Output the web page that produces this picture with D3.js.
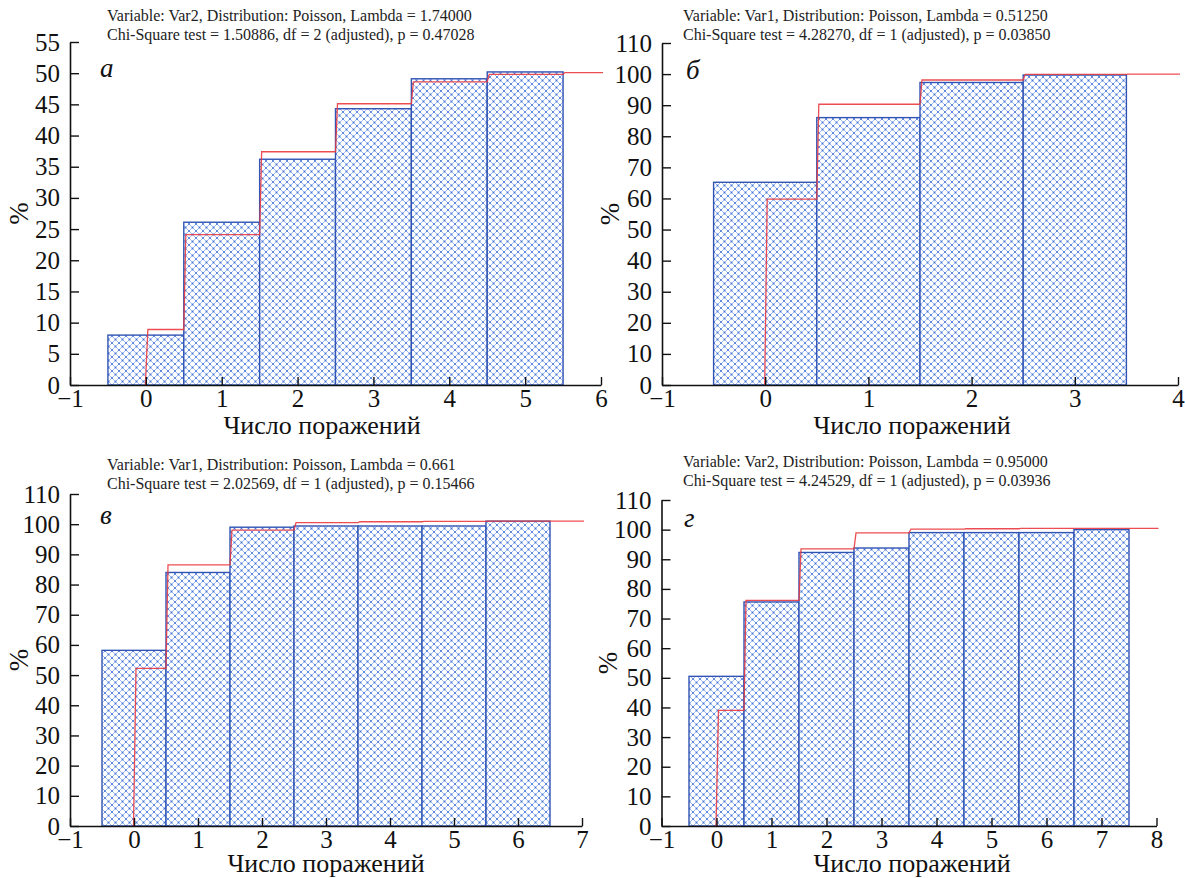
<!DOCTYPE html>
<html><head><meta charset="utf-8">
<script src="https://cdn.jsdelivr.net/npm/d3@7"></script>
<style>
html,body{margin:0;padding:0;background:#fff;}
svg{display:block;font-family:"Liberation Serif","Times New Roman",serif;}
</style></head>
<body>
<svg id="chart" width="1185" height="878"></svg>
<script>
// ---------------- DATA ----------------
const xLabel = "Число поражений";
const yLabel = "%";

const letterA = "а";
const titleA = ["Variable: Var2, Distribution: Poisson, Lambda = 1.74000",
                "Chi-Square test = 1.50886, df = 2 (adjusted), p = 0.47028"];
const categoriesA = [0, 1, 2, 3, 4, 5];
const observedA = [8.0, 26.1, 36.2, 44.3, 49.1, 50.2];
const expectedA = [8.9, 24.1, 37.4, 45.1, 48.6, 49.8];
const expectedTailA = 50.1;
const xTicksA = [-1, 0, 1, 2, 3, 4, 5, 6];
const yTicksA = [0, 5, 10, 15, 20, 25, 30, 35, 40, 45, 50, 55];

const letterB = "б";
const titleB = ["Variable: Var1, Distribution: Poisson, Lambda = 0.51250",
                "Chi-Square test = 4.28270, df = 1 (adjusted), p = 0.03850"];
const categoriesB = [0, 1, 2, 3];
const observedB = [65.2, 86.0, 97.3, 99.7];
const expectedB = [59.8, 90.3, 98.1, 99.9];
const expectedTailB = 100.0;
const xTicksB = [-1, 0, 1, 2, 3, 4];
const yTicksB = [0, 10, 20, 30, 40, 50, 60, 70, 80, 90, 100, 110];

const letterC = "в";
const titleC = ["Variable: Var1, Distribution: Poisson, Lambda = 0.661",
                "Chi-Square test = 2.02569, df = 1 (adjusted), p = 0.15466"];
const categoriesC = [0, 1, 2, 3, 4, 5, 6];
const observedC = [58.2, 84.0, 99.0, 99.4, 99.4, 99.4, 101.0];
const expectedC = [52.2, 86.5, 98.0, 100.5, 100.8, 100.9, 101.0];
const expectedTailC = 101.0;
const xTicksC = [-1, 0, 1, 2, 3, 4, 5, 6, 7];
const yTicksC = [0, 10, 20, 30, 40, 50, 60, 70, 80, 90, 100, 110];

const letterD = "г";
const titleD = ["Variable: Var2, Distribution: Poisson, Lambda = 0.95000",
                "Chi-Square test = 4.24529, df = 1 (adjusted), p = 0.03936"];
const categoriesD = [0, 1, 2, 3, 4, 5, 6, 7];
const observedD = [50.5, 75.6, 92.3, 93.8, 99.0, 99.0, 99.0, 100.0];
const expectedD = [39.0, 76.1, 93.5, 98.9, 100.2, 100.3, 100.4, 100.4];
const expectedTailD = 100.4;
const xTicksD = [-1, 0, 1, 2, 3, 4, 5, 6, 7, 8];
const yTicksD = [0, 10, 20, 30, 40, 50, 60, 70, 80, 90, 100, 110];

// ---------------- LAYOUT ----------------
const panels = [
  {letter: letterA, title: titleA, cats: categoriesA, obs: observedA, exp: expectedA, tail: expectedTailA,
   xTicks: xTicksA, yTicks: yTicksA,
   px: [70, 601], py: [385, 42], titleX: 107, titleY: [15, 34], letterPos: [100, 77], yLabX: 19, xLabX: 322, xLabY: 425},
  {letter: letterB, title: titleB, cats: categoriesB, obs: observedB, exp: expectedB, tail: expectedTailB,
   xTicks: xTicksB, yTicks: yTicksB,
   px: [662, 1178], py: [385, 43], titleX: 683, titleY: [15, 34], letterPos: [686, 79], yLabX: 610, xLabX: 912, xLabY: 425},
  {letter: letterC, title: titleC, cats: categoriesC, obs: observedC, exp: expectedC, tail: expectedTailC,
   xTicks: xTicksC, yTicks: yTicksC,
   px: [70, 582], py: [826, 494], titleX: 107, titleY: [464, 483], letterPos: [100, 524], yLabX: 19, xLabX: 326, xLabY: 863},
  {letter: letterD, title: titleD, cats: categoriesD, obs: observedD, exp: expectedD, tail: expectedTailD,
   xTicks: xTicksD, yTicks: yTicksD,
   px: [661.5, 1156.5], py: [826, 500], titleX: 683, titleY: [461, 480], letterPos: [684, 527], yLabX: 608, xLabX: 912, xLabY: 863}
];

const svg = d3.select("#chart");
const defs = svg.append("defs");
const P = 7;
const pat = defs.append("pattern").attr("id", "hatch")
  .attr("patternUnits", "userSpaceOnUse").attr("width", P).attr("height", P);
pat.append("rect").attr("width", P).attr("height", P).attr("fill", "#ffffff");
pat.append("path").attr("d", `M0,0L${P},${P}M${P},0L0,${P}M-1,${P-1}L1,${P+1}M${P-1},-1L${P+1},1M-1,1L1,-1M${P-1},${P+1}L${P+1},${P-1}`)
  .attr("stroke", "#8eaff0").attr("stroke-width", 0.85).attr("fill", "none");
pat.append("circle").attr("cx", P/2).attr("cy", P/2).attr("r", 0.95).attr("fill", "#4676d4");
[[0,0],[P,0],[0,P],[P,P]].forEach(q => pat.append("circle").attr("cx", q[0]).attr("cy", q[1]).attr("r", 0.95).attr("fill", "#4676d4"));

const barStroke = "#3154b4";
const redColor = "#ea3a3f";

panels.forEach(p => {
  const g = svg.append("g");
  const x = d3.scaleLinear().domain([p.xTicks[0], p.xTicks[p.xTicks.length - 1]]).range(p.px);
  const y = d3.scaleLinear().domain([0, p.yTicks[p.yTicks.length - 1]]).range(p.py);

  // bars
  g.selectAll("rect.bar").data(p.cats).join("rect").attr("class", "bar")
    .attr("x", (c) => x(c - 0.5))
    .attr("width", (c) => x(c + 0.5) - x(c - 0.5))
    .attr("y", (c, i) => y(p.obs[i]))
    .attr("height", (c, i) => y(0) - y(p.obs[i]))
    .attr("fill", "url(#hatch)")
    .attr("stroke", barStroke).attr("stroke-width", 1.4);

  // expected (red step line)
  const dx = 2;
  const pts = [[x(p.cats[0]) - 0.5, y(0)]];
  p.cats.forEach((c, i) => {
    const xs = i === 0 ? x(c) : x(c - 0.5);
    pts.push([xs + dx, y(p.exp[i])]);
    pts.push([x(c + 0.5), y(p.exp[i])]);
  });
  const lastC = p.cats[p.cats.length - 1];
  pts.push([x(lastC + 0.5) + dx, y(p.tail)]);
  pts.push([x(p.xTicks[p.xTicks.length - 1]) + 2, y(p.tail)]);
  g.append("path").attr("d", d3.line()(pts))
    .attr("fill", "none").attr("stroke", redColor).attr("stroke-width", 1.3)
    .attr("stroke-opacity", 0.9);

  // axes
  const xAxis = d3.axisBottom(x).tickValues(p.xTicks).tickSizeInner(-8).tickSizeOuter(0).tickPadding(4)
    .tickFormat(d3.format("d"));
  const xg = g.append("g").attr("transform", `translate(0,${y(0)})`).call(xAxis);
  xg.select(".domain").attr("stroke", "#111").attr("stroke-width", 1.6);
  xg.selectAll(".tick line").attr("stroke", "#111").attr("stroke-width", 1.4);
  xg.selectAll(".tick text").attr("font-size", 25).attr("fill", "#111")
    .attr("font-family", "Liberation Serif, serif");

  const yAxis = d3.axisLeft(y).tickValues(p.yTicks).tickSizeInner(-9).tickSizeOuter(0).tickPadding(10)
    .tickFormat(d3.format("d"));
  const yg = g.append("g").attr("transform", `translate(${x(p.xTicks[0])},0)`).call(yAxis);
  yg.select(".domain").attr("stroke", "#111").attr("stroke-width", 1.6);
  yg.selectAll(".tick line").attr("stroke", "#111").attr("stroke-width", 1.4);
  yg.selectAll(".tick text").attr("font-size", 25).attr("fill", "#111")
    .attr("font-family", "Liberation Serif, serif");

  // titles
  p.title.forEach((t, i) => {
    g.append("text").attr("x", p.titleX).attr("y", p.titleY[i]).attr("dy", "0.35em")
      .attr("font-size", 16).attr("fill", "#222").text(t);
  });
  // panel letter
  g.append("text").attr("x", p.letterPos[0]).attr("y", p.letterPos[1])
    .attr("font-size", 27).attr("font-style", "italic").attr("fill", "#111").text(p.letter);
  // axis labels
  g.append("text").attr("x", p.xLabX).attr("y", p.xLabY).attr("dy", "0.35em")
    .attr("text-anchor", "middle").attr("font-size", 26).attr("fill", "#111").text(xLabel);
  const ymid = (p.py[0] + p.py[1]) / 2;
  g.append("text").attr("transform", `translate(${p.yLabX},${ymid}) rotate(-90)`)
    .attr("dy", "0.35em").attr("text-anchor", "middle").attr("font-size", 27).attr("fill", "#111").text(yLabel);
});
</script>
</body></html>
